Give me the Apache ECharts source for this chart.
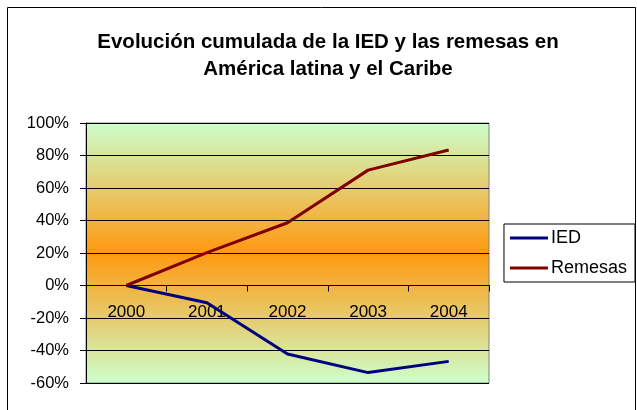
<!DOCTYPE html>
<html>
<head>
<meta charset="utf-8">
<script src="https://cdn.jsdelivr.net/npm/echarts@6/dist/echarts.min.js"></script>
<style>
  html, body { margin: 0; padding: 0; background: #fff; }
  #chart { width: 637px; height: 410px; }
</style>
</head>
<body>
<div id="chart"></div>
<script>
// data
const years = ["2000", "2001", "2002", "2003", "2004"];
const ied = [0, -10.6, -42.2, -53.6, -46.7];
const remesas = [0, 20.2, 38.6, 71, 83.4];

const font = "Liberation Sans, Arial, sans-serif";

const chart = echarts.init(document.getElementById("chart"));
chart.setOption({
  backgroundColor: "#fff",
  animation: false,
  title: {
    text: "Evolución cumulada de la IED y las remesas en\nAmérica latina y el Caribe",
    left: 323,
    textAlign: "center",
    top: 24,
    textStyle: {
      fontFamily: font,
      fontSize: 20.5,
      fontWeight: "bold",
      color: "#000",
      lineHeight: 27,
    },
  },
  graphic: [
    {
      type: "rect",
      shape: { x: 7.5, y: 7.5, width: 628, height: 420 },
      style: { fill: "none", stroke: "#000", lineWidth: 1 },
      silent: true,
      z: 100,
    },
  ],
  legend: {
    orient: "vertical",
    right: 2,
    top: 224,
    padding: [5, 8, 5, 6],
    itemGap: 12,
    itemWidth: 38,
    itemHeight: 3,
    borderColor: "#000",
    borderWidth: 1,
    icon: "rect",
    textStyle: { fontFamily: font, fontSize: 18, lineHeight: 18, color: "#000", padding: [0, 0, 0, -2] },
    data: ["IED", "Remesas"],
  },
  grid: {
    left: 86,
    top: 123,
    width: 403,
    height: 260,
    show: true,
    borderColor: "#808080",
    borderWidth: 1,
    backgroundColor: {
      type: "linear",
      x: 0, y: 0, x2: 0, y2: 1,
      colorStops: [
        { offset: 0, color: "#CCFFCC" },
        { offset: 0.5, color: "#FF9910" },
        { offset: 1, color: "#CCFFCC" },
      ],
    },
  },
  xAxis: [
    {
      type: "category",
      data: years,
      boundaryGap: true,
      axisLine: { onZero: true, lineStyle: { color: "#000", width: 1 } },
      axisTick: { show: true, length: 6, lineStyle: { color: "#000" } },
      axisLabel: { show: false },
      splitLine: { show: false },
    },
    {
      // label row sitting just under the zero line
      type: "category",
      data: years,
      position: "bottom",
      offset: -97.5,
      axisLine: { show: false, onZero: false },
      axisTick: { show: false },
      axisLabel: { fontFamily: font, fontSize: 17, color: "#000", margin: 18 },
      splitLine: { show: false },
    },
  ],
  yAxis: {
    type: "value",
    min: -60,
    max: 100,
    interval: 20,
    axisLine: { show: true, lineStyle: { color: "#000" } },
    axisTick: { show: true, length: 6, lineStyle: { color: "#000" } },
    axisLabel: {
      fontFamily: font,
      fontSize: 16.5,
      color: "#000",
      margin: 17,
      formatter: (v) => v + "%",
    },
    splitLine: { show: true, lineStyle: { color: "#000", width: 1 } },
  },
  series: [
    {
      name: "IED",
      type: "line",
      data: ied,
      symbol: "none",
      color: "#000080",
      lineStyle: { width: 3, color: "#000080" },
    },
    {
      name: "Remesas",
      type: "line",
      data: remesas,
      symbol: "none",
      color: "#800000",
      lineStyle: { width: 3, color: "#800000" },
    },
  ],
});
</script>
</body>
</html>
